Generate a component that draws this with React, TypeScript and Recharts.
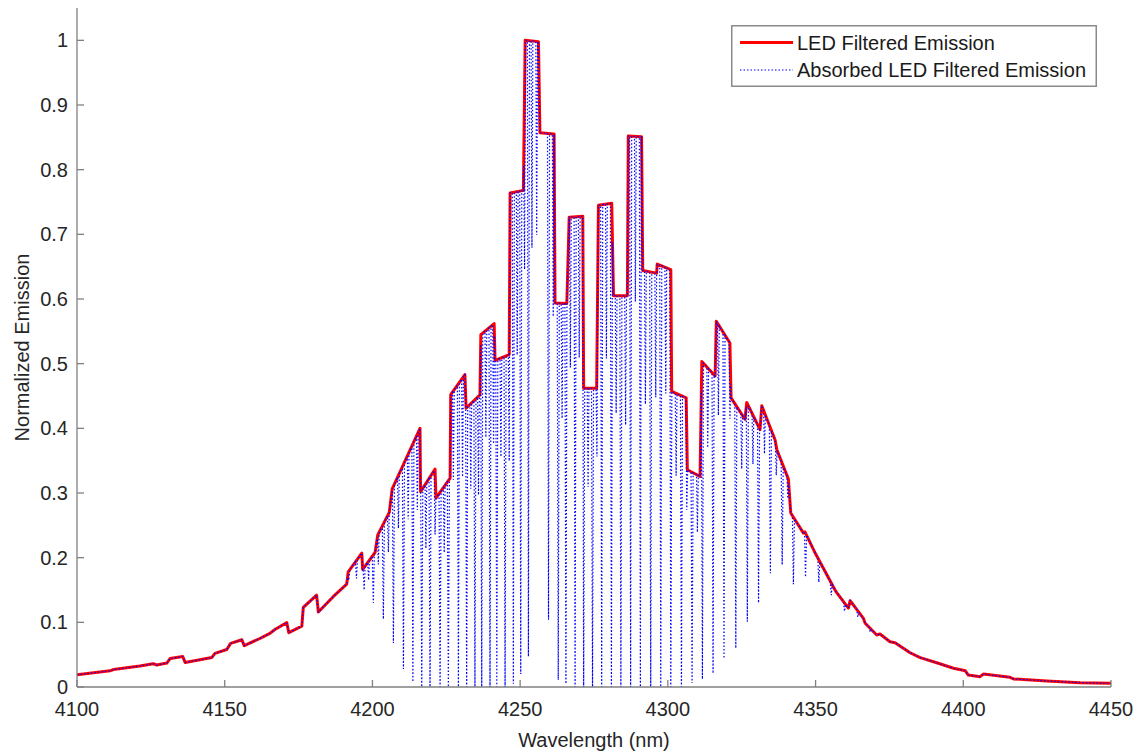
import { LineChart, Line, XAxis, YAxis, Legend } from "recharts"

const FONT = '"Liberation Sans", Arial, Helvetica, sans-serif'
const AXIS = "#808080"
const TEXT = "#262626"

// LED filtered emission
const emissionNm = [
  4100, 4111.2, 4112.3, 4121.3, 4125.8, 4127, 4130.4, 4131.5, 4135.8, 4136.6,
  4141.6, 4145.6, 4146.7, 4150.7, 4152, 4155.8, 4156.6, 4161.9, 4165.3, 4167,
  4171, 4171.7, 4176.1, 4176.6, 4181.1, 4181.7, 4186.8, 4191.3, 4191.8, 4196.4,
  4196.7, 4200.9, 4201.8, 4205.7, 4206.7, 4216.1, 4216.3, 4221.2, 4221.5, 4226.3,
  4226.5, 4231.3, 4231.7, 4236.4, 4236.7, 4241.2, 4241.5, 4246.3, 4246.6, 4251.1,
  4251.7, 4256.2, 4256.7, 4261.5, 4261.8, 4265.8, 4266.6, 4271.2, 4271.5, 4275.9,
  4276.5, 4281, 4281.6, 4286.3, 4286.6, 4291.1, 4291.5, 4296.2, 4296.4, 4301,
  4301.3, 4306.2, 4306.6, 4310.9, 4311.5, 4316, 4316.4, 4321, 4321.4, 4326.1,
  4326.7, 4331.2, 4331.8, 4336.3, 4336.9, 4340.8, 4341.6, 4345.9, 4346.4, 4350,
  4356, 4356.9, 4361.1, 4361.7, 4366.2, 4366.8, 4370.7, 4371.8, 4375.2, 4376.9,
  4382, 4385.4, 4391, 4396.7, 4400.7, 4401.7, 4405.7, 4406.8, 4415.8, 4417,
  4428.3, 4439.5, 4450,
]
const emissionVal = [
  0.019, 0.025, 0.027, 0.0325, 0.036, 0.034, 0.037, 0.044, 0.047, 0.038,
  0.042, 0.0455, 0.052, 0.058, 0.0675, 0.073, 0.064, 0.075, 0.083, 0.089,
  0.0995, 0.084, 0.094, 0.123, 0.142, 0.116, 0.14, 0.159, 0.178, 0.207,
  0.182, 0.208, 0.235, 0.27, 0.3065, 0.4, 0.302, 0.337, 0.292, 0.323,
  0.452, 0.483, 0.431, 0.452, 0.545, 0.562, 0.505, 0.514, 0.764, 0.768,
  1.0, 0.998, 0.857, 0.855, 0.594, 0.593, 0.7265, 0.728, 0.462, 0.462,
  0.745, 0.748, 0.605, 0.605, 0.852, 0.851, 0.644, 0.64, 0.654, 0.6455,
  0.457, 0.447, 0.336, 0.3255, 0.5035, 0.481, 0.5655, 0.532, 0.447, 0.414,
  0.44, 0.398, 0.435, 0.382, 0.367, 0.3215, 0.269, 0.238, 0.24, 0.206,
  0.155, 0.1475, 0.122, 0.1335, 0.106, 0.0985, 0.0805, 0.082, 0.07, 0.0685,
  0.053, 0.0455, 0.0375, 0.029, 0.025, 0.0185, 0.016, 0.02, 0.015, 0.0125,
  0.0093, 0.0067, 0.0057,
]

// strong absorption lines: centre (nm) and the level the absorbed curve drops to
const strongNm = [
  4192.0, 4194.6, 4197.2, 4200.3, 4203.7, 4207.1, 4210.5, 4213.7, 4216.7, 4219.5,
  4222.9, 4225.7, 4229.1, 4231.9, 4234.7, 4237.0, 4239.8, 4242.1, 4244.9, 4247.7,
  4250.2, 4252.8, 4259.6, 4262.9, 4265.5, 4268.6, 4271.5, 4274.5, 4277.6, 4280.9,
  4284.1, 4287.4, 4290.7, 4294.2, 4297.6, 4301.0, 4304.6, 4308.2, 4311.7, 4315.3,
  4319.0, 4323.0, 4326.9, 4330.7, 4334.7, 4338.7, 4342.5, 4346.6, 4351.1, 4355.3,
  4359.8, 4364.3, 4368.5,
]
const strongMin = [
  0.165, 0.168, 0.15, 0.13, 0.105, 0.068, 0.028, 0.008, 0, 0,
  0, 0, 0, 0, 0, 0, 0, 0, 0, 0.005,
  0.02, 0.047, 0.104, 0.011, 0.005, 0, 0, 0, 0, 0,
  0, 0, 0, 0, 0, 0, 0, 0.006, 0.012, 0.021,
  0.044, 0.06, 0.101, 0.13, 0.176, 0.189, 0.159, 0.17, 0.162, 0.142,
  0.117, 0.108, 0.085,
]

// weaker lines in between: centre (nm) and fraction of the emission they absorb
const weakNm = [
  4198.7, 4202.0, 4205.4, 4208.8, 4212.1, 4215.2, 4218.1, 4221.2, 4224.3, 4227.4,
  4230.5, 4233.3, 4235.9, 4238.4, 4241.0, 4243.5, 4246.3, 4249.0, 4251.5, 4254.0,
  4255.6, 4261.2, 4264.2, 4267.0, 4270.0, 4273.0, 4276.0, 4279.2, 4282.5, 4285.7,
  4289.0, 4292.4, 4295.9, 4299.3, 4302.8, 4306.4, 4310.0, 4313.5, 4317.1, 4321.0,
  4325.0, 4328.8, 4332.7, 4336.7, 4340.6,
]
const weakFrac = [
  0.15, 0.2, 0.22, 0.25, 0.28, 0.3, 0.32, 0.3, 0.33, 0.3,
  0.32, 0.3, 0.34, 0.3, 0.33, 0.3, 0.32, 0.33, 0.3, 0.32,
  0.3, 0.33, 0.3, 0.32, 0.3, 0.33, 0.3, 0.32, 0.3, 0.33,
  0.3, 0.32, 0.3, 0.3, 0.28, 0.3, 0.27, 0.25, 0.25, 0.22,
  0.2, 0.18, 0.15, 0.12, 0.1,
]

const xTicks = [4100, 4150, 4200, 4250, 4300, 4350, 4400, 4450]
const yTicks = [0, 0.1, 0.2, 0.3, 0.4, 0.5, 0.6, 0.7, 0.8, 0.9, 1]

const emissionAt = (x: number) => {
  for (let i = 1; i < emissionNm.length; i++) {
    if (x <= emissionNm[i]) {
      const t = (x - emissionNm[i - 1]) / (emissionNm[i] - emissionNm[i - 1])
      return emissionVal[i - 1] + t * (emissionVal[i] - emissionVal[i - 1])
    }
  }
  return emissionVal[emissionVal.length - 1]
}

const emission = emissionNm.map((x, i) => ({ x, y: emissionVal[i] }))

const dips = [
  ...strongNm.map((c, i) => ({ c, min: strongMin[i], half: 0.35 })),
  ...weakNm.map((c, i) => ({ c, min: emissionAt(c) * (1 - weakFrac[i]), half: 0.3 })),
]
const inDip = (x: number) => dips.some((d) => Math.abs(x - d.c) < d.half)

const absorbed = [
  ...emission.filter((p) => !inDip(p.x)),
  ...dips.flatMap((d) => [
    { x: d.c - d.half, y: emissionAt(d.c - d.half) },
    { x: d.c, y: d.min },
    { x: d.c + d.half, y: emissionAt(d.c + d.half) },
  ]),
].sort((a, b) => a.x - b.x)

function LegendBox() {
  return (
    <svg width={366} height={62} style={{ display: "block" }}>
      <rect x={0.75} y={0.75} width={364.5} height={60.5} fill="#fff" stroke="#8a8a8a" strokeWidth={1.5} />
      <line x1={9} x2={62} y1={17.5} y2={17.5} stroke="#ff0000" strokeWidth={3} />
      <text x={66} y={24.5} fontSize={20} fontFamily={FONT} fill="#1a1a1a">
        LED Filtered Emission
      </text>
      <line x1={9} x2={62} y1={45} y2={45} stroke="#0000ff" strokeWidth={1.2} strokeDasharray="1.5 2" />
      <text x={66} y={52} fontSize={20} fontFamily={FONT} fill="#1a1a1a">
        Absorbed LED Filtered Emission
      </text>
    </svg>
  )
}

export default function App() {
  const tickStyle = { fill: TEXT, fontSize: 20, fontFamily: FONT }
  return (
    <div style={{ position: "absolute", left: 0, top: 0, width: 1138, height: 754, background: "#fff" }}>
      <LineChart width={1138} height={754} margin={{ top: 8, right: 27, bottom: 0, left: 17 }}>
        <XAxis
          xAxisId="b"
          type="number"
          dataKey="x"
          domain={[4100, 4450]}
          ticks={xTicks}
          interval={0}
          allowDataOverflow
          height={67}
          stroke={AXIS}
          strokeWidth={1.3}
          tickSize={-7}
          tickMargin={22}
          tick={tickStyle}
          label={{ value: "Wavelength (nm)", position: "insideBottom", offset: 7, fill: TEXT, fontSize: 20, fontFamily: FONT }}
        />
        <XAxis
          xAxisId="t"
          orientation="top"
          type="number"
          dataKey="x"
          domain={[4100, 4450]}
          ticks={xTicks}
          interval={0}
          allowDataOverflow
          height={0}
          stroke={AXIS}
          strokeWidth={1.3}
          tickSize={-7}
          tickFormatter={() => ""}
        />
        <YAxis
          yAxisId="l"
          type="number"
          domain={[0, 1.05]}
          ticks={yTicks}
          interval={0}
          allowDataOverflow
          width={60}
          stroke={AXIS}
          strokeWidth={1.3}
          tickSize={-7}
          tickMargin={16}
          tick={tickStyle}
          tickFormatter={(v) => String(v)}
          label={{
            value: "Normalized Emission",
            angle: -90,
            position: "insideLeft",
            offset: 5,
            fill: TEXT,
            fontSize: 20,
            fontFamily: FONT,
            style: { textAnchor: "middle" },
          }}
        />
        <YAxis
          yAxisId="r"
          orientation="right"
          type="number"
          domain={[0, 1.05]}
          ticks={yTicks}
          interval={0}
          allowDataOverflow
          width={0}
          stroke={AXIS}
          strokeWidth={1.3}
          tickSize={-7}
          tickFormatter={() => ""}
        />
        <Line
          xAxisId="b"
          yAxisId="l"
          data={emission}
          dataKey="y"
          type="linear"
          stroke="#ff0000"
          strokeWidth={3}
          strokeLinejoin="round"
          dot={false}
          activeDot={false}
          isAnimationActive={false}
        />
        <Line
          xAxisId="b"
          yAxisId="l"
          data={absorbed}
          dataKey="y"
          type="linear"
          stroke="#0000ff"
          strokeWidth={1.2}
          strokeDasharray="1.5 2"
          dot={false}
          activeDot={false}
          isAnimationActive={false}
        />
        <Legend
          layout="vertical"
          align="center"
          verticalAlign="middle"
          wrapperStyle={{ left: 731, top: 25, width: 366, height: 62 }}
          content={() => <LegendBox />}
        />
      </LineChart>
    </div>
  )
}
